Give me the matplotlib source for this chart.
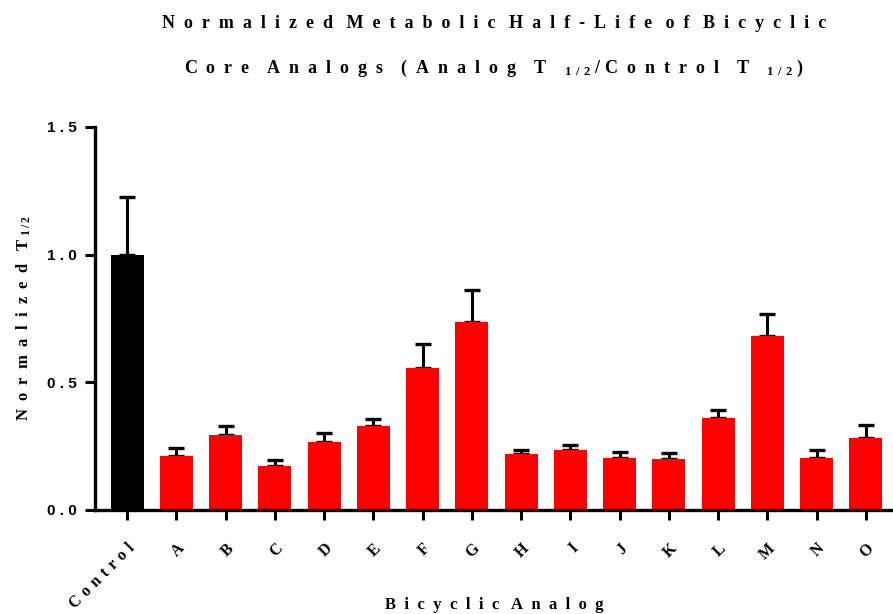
import numpy as np
import matplotlib
matplotlib.use("Agg")
import matplotlib.pyplot as plt

# values
categories = ["Control", "A", "B", "C", "D", "E", "F", "G",
              "H", "I", "J", "K", "L", "M", "N", "O"]
means = [1.00, 0.212, 0.294, 0.173, 0.267, 0.329, 0.557, 0.737,
         0.220, 0.235, 0.204, 0.200, 0.361, 0.682, 0.204, 0.282]
errors = [0.227, 0.031, 0.035, 0.023, 0.036, 0.029, 0.095, 0.123,
          0.016, 0.021, 0.025, 0.024, 0.031, 0.085, 0.030, 0.049]
yticks = [0.0, 0.5, 1.0, 1.5]

SERIF = ["Liberation Serif", "DejaVu Serif"]
SANS = "Liberation Sans"
EN = "\u2002"

plt.rcParams.update({
    "mathtext.fontset": "custom",
    "mathtext.rm": "Liberation Serif:bold",
    "mathtext.it": "Liberation Serif:bold",
    "mathtext.bf": "Liberation Serif:bold",
})


def spaced(text, gap=EN, word_gap=EN + " "):
    # the reference uses very wide letter spacing
    return word_gap.join(gap.join(word) for word in text.split(" "))


SUB = r"$_{1\,/\,2}$"
SUB_WIDE = r"$_{1\;\,/\;\,2}$"

fig = plt.figure(figsize=(8.93, 6.14), dpi=100)
ax = fig.add_axes([0.1064, 0.1694, 0.8936, 0.6238])

x = np.arange(len(categories))
colors = ["black"] + ["#ff0000"] * (len(categories) - 1)
ax.bar(x, means, width=0.67, color=colors, zorder=2)
ax.errorbar(x, means, yerr=[np.zeros(len(errors)), errors], fmt="none",
            ecolor="black", elinewidth=2.2, capsize=5.5, capthick=2.4, zorder=1)

ax.set_xlim(-0.65, 15.55)
ax.set_ylim(0, 1.5)
ax.set_yticks(yticks)
ax.set_yticklabels([" ".join(f"{t:.1f}") for t in yticks],
                   fontfamily=SANS, fontweight="bold", fontsize=11)
ax.set_xticks(x)
ax.set_xticklabels([" \u200a".join(c) for c in categories], rotation=45,
                   ha="right", va="top", rotation_mode="anchor",
                   fontfamily=SERIF, fontweight="bold", fontsize=11.5)

for side in ["top", "right"]:
    ax.spines[side].set_visible(False)
for side in ["left", "bottom"]:
    ax.spines[side].set_linewidth(2.4)
ax.tick_params(axis="both", direction="out", length=7, width=2.2, pad=6)
ax.tick_params(axis="x", pad=15)

ax.set_ylabel(spaced("Normalized") + EN + " T " + SUB,
              fontfamily=SERIF, fontweight="bold", fontsize=12, labelpad=10)
ax.set_xlabel(spaced("Bicyclic Analog"), fontfamily=SERIF,
              fontweight="bold", fontsize=12)
ax.xaxis.set_label_coords(0.5, -0.228)

fig.text(0.553, 0.962, spaced("Normalized Metabolic Half-Life of Bicyclic"),
         ha="center", va="center", fontfamily=SERIF, fontweight="bold",
         fontsize=13)
fig.text(0.553, 0.888,
         spaced("Core Analogs (Analog", word_gap=EN + EN) + EN + EN + "T"
         + EN + EN + SUB_WIDE + " / " + spaced("Control") + EN + EN + "T"
         + EN + EN + SUB_WIDE + " )",
         ha="center", va="center", fontfamily=SERIF, fontweight="bold",
         fontsize=13)

fig.savefig("out.png", dpi=100)
